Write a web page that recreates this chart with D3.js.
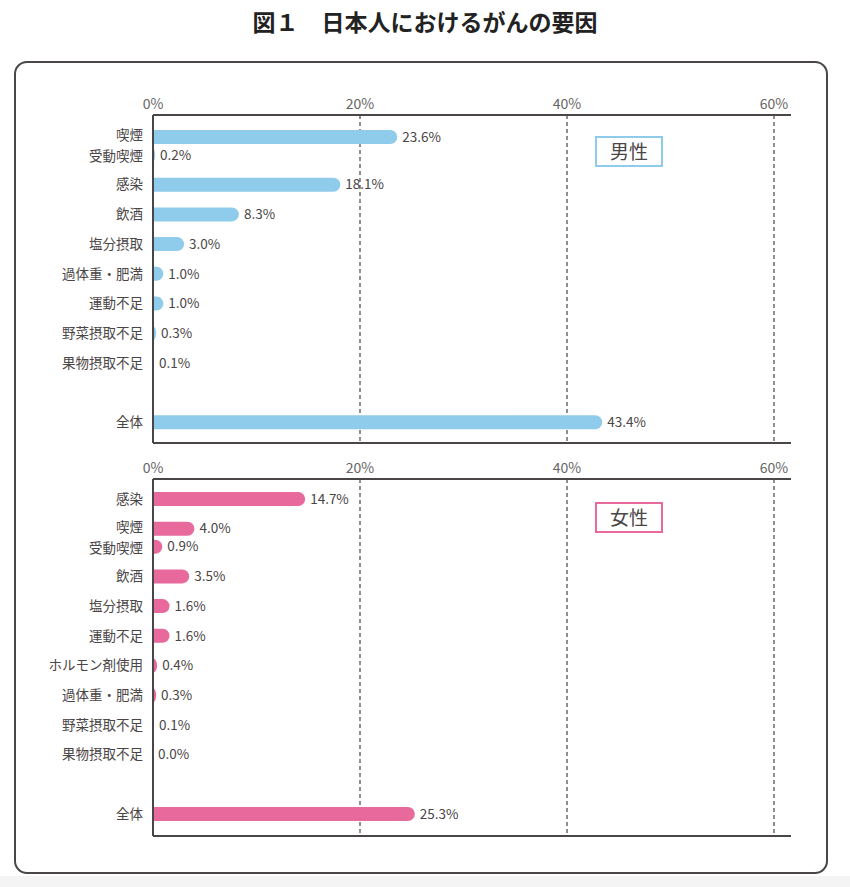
<!doctype html>
<html>
<head>
<meta charset="utf-8">
<style>
body { margin: 0; background: #fff; }
svg { font-family: "Noto Sans CJK JP", "Noto Sans", sans-serif; display: block; }
</style>
<script src="https://cdn.jsdelivr.net/npm/d3@7"></script>
</head>
<body>
<svg width="850" height="887"></svg>
<script>
// data
var maleCats = ["喫煙", "受動喫煙", "感染", "飲酒", "塩分摂取", "過体重・肥満", "運動不足", "野菜摂取不足", "果物摂取不足", "全体"];
var maleVals = [23.6, 0.2, 18.1, 8.3, 3.0, 1.0, 1.0, 0.3, 0.1, 43.4];
var femaleCats = ["感染", "喫煙", "受動喫煙", "飲酒", "塩分摂取", "運動不足", "ホルモン剤使用", "過体重・肥満", "野菜摂取不足", "果物摂取不足", "全体"];
var femaleVals = [14.7, 4.0, 0.9, 3.5, 1.6, 1.6, 0.4, 0.3, 0.1, 0.0, 25.3];
var ticks = [0, 20, 40, 60];

var svg = d3.select("svg"),
    width = +svg.attr("width"),
    height = +svg.attr("height");

svg.append("rect").attr("x", 0).attr("y", 876).attr("width", width).attr("height", 11).attr("fill", "#f4f4f4");

svg.append("text")
    .attr("x", width / 2).attr("y", 31)
    .attr("text-anchor", "middle")
    .attr("font-size", 23).attr("font-weight", "bold").attr("fill", "#222")
    .text("図１　日本人におけるがんの要因");

svg.append("rect")
    .attr("x", 15).attr("y", 62).attr("width", 812).attr("height", 811)
    .attr("rx", 12).attr("fill", "none").attr("stroke", "#4a4546").attr("stroke-width", 2);

var x = d3.scaleLinear().domain([0, 60]).range([153, 774]);

function panel(cats, vals, top, bottom, firstY, color, legend, legendY) {
  var g = svg.append("g");

  // row positions: 30px step, 18px between 喫煙 and 受動喫煙, extra gap before 全体
  var ys = [], yy = firstY;
  cats.forEach(function(c, i) {
    if (i > 0) {
      if (c == "受動喫煙") yy += 18;
      else if (c == "全体") yy += 59.4;
      else yy += 29.7;
    }
    ys.push(yy);
  });

  // grid
  g.selectAll(".grid").data(ticks.slice(1)).enter().append("line")
      .attr("x1", d => x(d)).attr("x2", d => x(d))
      .attr("y1", top).attr("y2", bottom)
      .attr("stroke", "#6e6a6b").attr("stroke-width", 1.5).attr("stroke-dasharray", "4,3");

  g.selectAll(".tick").data(ticks).enter().append("text")
      .attr("x", d => x(d)).attr("y", top - 6)
      .attr("text-anchor", "middle").attr("font-size", 14).attr("fill", "#666")
      .text(d => d + "%");

  var bh = 14;
  g.selectAll(".bar").data(vals).enter().append("path")
      .attr("fill", color)
      .attr("d", function(d, i) {
        var x0 = x(0), w = x(d) - x0, y0 = ys[i] - bh / 2;
        if (w <= 0) return "";
        var rx = Math.min(bh / 2, w);
        return "M" + x0 + "," + y0 + "H" + (x0 + w - rx) +
          "A" + rx + "," + (bh / 2) + " 0 0 1 " + (x0 + w - rx) + "," + (y0 + bh) +
          "H" + x0 + "Z";
      });

  g.selectAll(".val").data(vals).enter().append("text")
      .attr("x", d => x(d) + 5).attr("y", (d, i) => ys[i]).attr("dy", "0.35em")
      .attr("font-size", 13.5).attr("fill", "#4a4546")
      .text(d => d.toFixed(1) + "%");

  // the 喫煙 / 受動喫煙 pair sits tight, nudge labels apart a little
  g.selectAll(".cat").data(cats).enter().append("text")
      .attr("x", 143)
      .attr("y", (d, i) => ys[i] + (d == "喫煙" ? -1.5 : d == "受動喫煙" ? 1.5 : 0))
      .attr("dy", "0.35em")
      .attr("text-anchor", "end").attr("font-size", 13.5).attr("fill", "#4a4546")
      .text(d => d);

  // axis frame lines
  g.append("line").attr("x1", 153).attr("x2", 791).attr("y1", top).attr("y2", top)
      .attr("stroke", "#4a4546").attr("stroke-width", 2);
  g.append("line").attr("x1", 153).attr("x2", 791).attr("y1", bottom).attr("y2", bottom)
      .attr("stroke", "#4a4546").attr("stroke-width", 2);
  g.append("line").attr("x1", 153).attr("x2", 153).attr("y1", top).attr("y2", bottom)
      .attr("stroke", "#4a4546").attr("stroke-width", 2);

  g.append("rect").attr("x", 596).attr("y", legendY).attr("width", 66).attr("height", 29)
      .attr("fill", "#fff").attr("stroke", color).attr("stroke-width", 2);
  g.append("text").attr("x", 629).attr("y", legendY + 15).attr("dy", "0.35em")
      .attr("text-anchor", "middle").attr("font-size", 19).attr("fill", "#4a4546")
      .text(legend);
}

panel(maleCats, maleVals, 115, 443, 137, "#8fcbea", "男性", 137);
panel(femaleCats, femaleVals, 479, 836, 499, "#e8699b", "女性", 503);
</script>
</body>
</html>
